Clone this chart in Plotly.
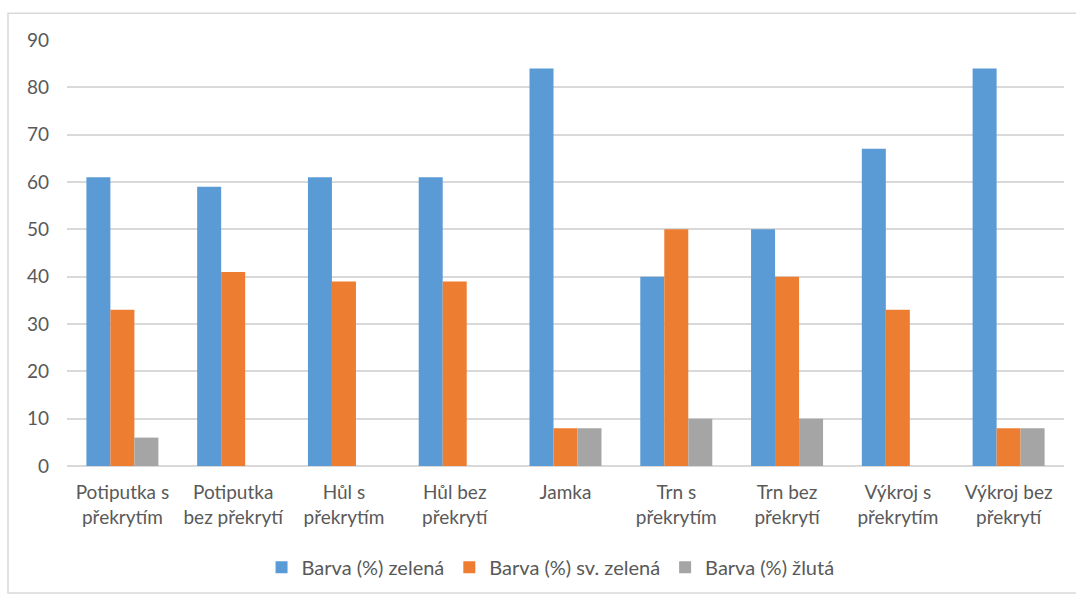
import plotly.graph_objects as go

categories = [
    "Potiputka s<br>překrytím",
    "Potiputka<br>bez překrytí",
    "Hůl s<br>překrytím",
    "Hůl bez<br>překrytí",
    "Jamka",
    "Trn s<br>překrytím",
    "Trn bez<br>překrytí",
    "Výkroj s<br>překrytím",
    "Výkroj bez<br>překrytí",
]
zelena = [61, 59, 61, 61, 84, 40, 50, 67, 84]
sv_zelena = [33, 41, 39, 39, 8, 50, 40, 33, 8]
zluta = [6, 0, 0, 0, 8, 10, 10, 0, 8]

series_names = ["Barva (%) zelená", "Barva (%) sv. zelená", "Barva (%) žlutá"]
series_values = [zelena, sv_zelena, zluta]
series_colors = ["#5B9BD5", "#ED7D31", "#A5A5A5"]
y_ticks = [0, 10, 20, 30, 40, 50, 60, 70, 80, 90]

FONT = "Lato, 'Open Sans', sans-serif"
TEXT_COLOR = "#595959"
FS = 19

fig = go.Figure()
for name, vals, col in zip(series_names, series_values, series_colors):
    fig.add_trace(go.Bar(
        name=name, x=categories, y=vals,
        marker=dict(color=col, line=dict(width=0)),
    ))

W, H = 1076, 599
ml, mr, mt, mb = 67, 12, 40, 130
pw, ph = W - ml - mr, H - mt - mb

# outer chart frame
fig.add_shape(
    type="rect", xref="paper", yref="paper",
    x0=(8 - ml) / pw, x1=(W + 4 - ml) / pw,
    y0=(H - mb - 597) / ph, y1=1 + (mt - 13) / ph,
    line=dict(color="#D9D9D9", width=1.5), fillcolor="rgba(0,0,0,0)",
    layer="below",
)

fig.update_layout(
    width=W, height=H,
    margin=dict(l=ml, r=mr, t=mt, b=mb),
    paper_bgcolor="white", plot_bgcolor="white",
    barmode="group", bargap=0.35, bargroupgap=0,
    font=dict(family=FONT, size=FS, color=TEXT_COLOR),
    showlegend=True,
    legend=dict(
        orientation="h", x=0.485, xanchor="center",
        y=-(571 - (H - mb)) / ph, yanchor="middle",
        font=dict(size=20, color=TEXT_COLOR),
        itemwidth=30, traceorder="normal",
    ),
    xaxis=dict(
        showgrid=False, showline=False, zeroline=False,
        tickfont=dict(size=FS, color=TEXT_COLOR),
        ticks="", ticklabelstandoff=13,
    ),
    yaxis=dict(
        range=[0, 90], tickvals=y_ticks,
        showgrid=True, gridcolor="#D9D9D9", gridwidth=1.5,
        zeroline=True, zerolinecolor="#D9D9D9", zerolinewidth=1.5,
        showline=False, ticks="",
        tickfont=dict(size=FS, color=TEXT_COLOR),
        ticklabelstandoff=17,
    ),
)

fig.write_html("out.html")
